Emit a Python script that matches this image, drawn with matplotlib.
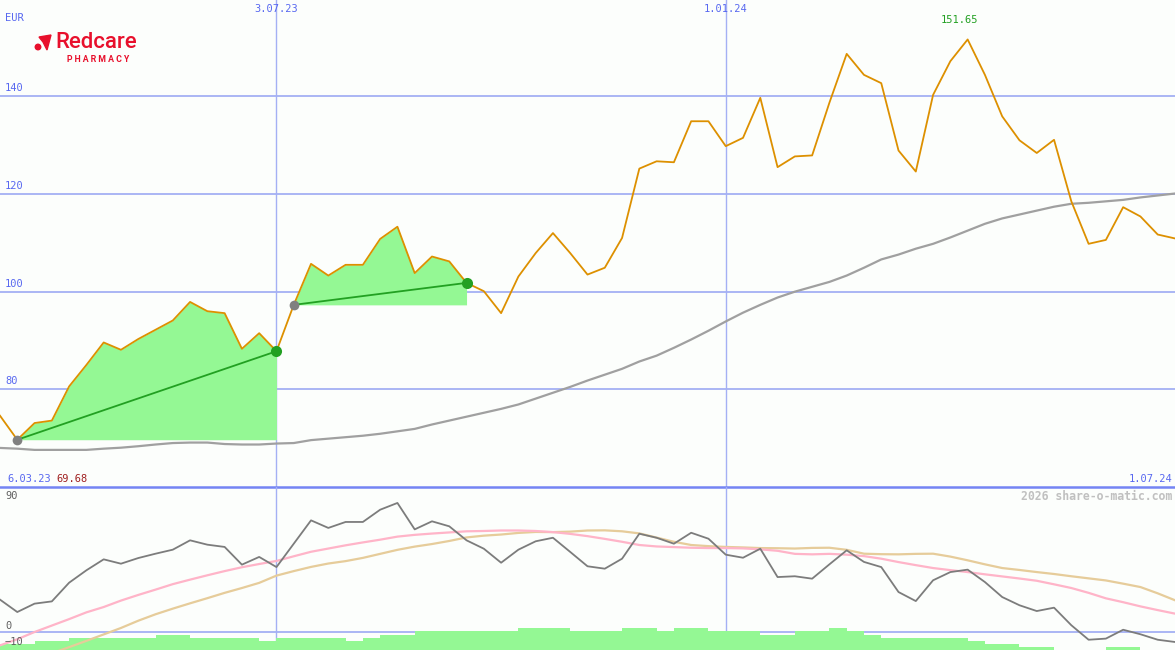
import numpy as np
import matplotlib
matplotlib.use("Agg")
import matplotlib.pyplot as plt
from matplotlib.patches import Polygon, Ellipse

# weekly closes (EUR), 6.03.23 .. 1.07.24
price = [74.6, 69.68, 73.1, 73.6, 80.6, 85.0, 89.6, 88.1, 90.3, 92.2,
         94.1, 97.9, 96.0, 95.6, 88.3, 91.5, 87.8, 97.3, 105.7, 103.3,
         105.5, 105.5, 110.8, 113.3, 103.8, 107.2, 106.2, 101.8, 100.1, 95.6,
         103.1, 107.9, 112.0, 107.9, 103.5, 104.9, 111.0, 125.2, 126.7, 126.5,
         134.9, 134.9, 129.8, 131.5, 139.7, 125.5, 127.7, 127.9, 138.7, 148.7,
         144.4, 142.7, 128.9, 124.6, 140.3, 147.2, 151.65, 144.4, 135.9, 131.0,
         128.4, 131.1, 118.5, 109.8, 110.6, 117.3, 115.4, 111.7, 110.9]

# long moving average
ma = [68.0, 67.85, 67.6, 67.6, 67.6, 67.6, 67.85, 68.05, 68.35, 68.7,
      69.0, 69.1, 69.1, 68.8, 68.7, 68.7, 68.9, 69.0, 69.6, 69.9,
      70.2, 70.5, 70.9, 71.4, 71.9, 72.8, 73.6, 74.4, 75.2, 76.0,
      76.9, 78.1, 79.3, 80.5, 81.8, 83.0, 84.2, 85.7, 86.9, 88.5,
      90.2, 92.0, 93.9, 95.7, 97.3, 98.8, 100.0, 101.0, 102.0, 103.3,
      104.9, 106.6, 107.6, 108.8, 109.8, 111.1, 112.5, 113.9, 115.0, 115.8,
      116.6, 117.4, 118.0, 118.2, 118.5, 118.8, 119.3, 119.7, 120.1]

# lower panel indicator
osc = [20.1, 12.4, 17.6, 19.0, 30.6, 38.3, 45.1, 42.4, 45.9, 48.6,
       51.1, 56.9, 54.2, 52.8, 41.8, 46.6, 40.3, 54.8, 69.3, 64.6,
       68.3, 68.3, 75.9, 80.1, 63.7, 68.7, 65.6, 56.9, 51.7, 43.0,
       51.1, 56.3, 58.5, 49.7, 40.8, 39.3, 45.5, 61.0, 58.5, 54.8,
       61.6, 57.9, 48.0, 46.1, 51.7, 34.1, 34.6, 33.1, 42.0, 50.7,
       43.5, 40.3, 24.8, 19.2, 32.1, 37.2, 38.7, 31.0, 21.7, 16.6,
       13.0, 15.1, 4.2, -4.8, -4.1, 1.4, -1.4, -4.8, -6.2]

pink = [-8.3, -4.5, 0.0, 4.0, 8.0, 12.2, 15.5, 19.5, 23.0, 26.3,
        29.7, 32.5, 35.2, 37.8, 40.2, 42.2, 44.1, 47.0, 49.8, 51.8,
        53.8, 55.6, 57.3, 59.2, 60.3, 61.1, 61.8, 62.5, 62.7, 63.0,
        63.0, 62.7, 62.0, 60.9, 59.5, 57.8, 56.0, 54.0, 53.1, 52.7,
        52.3, 52.1, 52.1, 51.9, 51.3, 50.4, 48.5, 48.2, 48.5, 48.0,
        47.1, 45.5, 43.4, 41.5, 39.7, 38.4, 37.2, 35.8, 34.5, 33.2,
        31.8, 29.6, 27.3, 24.3, 20.9, 18.5, 15.9, 13.6, 11.4]

tan = [-25.0, -21.0, -17.0, -13.2, -9.4, -5.5, -1.5, 2.5, 7.0, 11.0,
       14.5, 17.8, 21.0, 24.3, 27.3, 30.5, 35.0, 37.8, 40.4, 42.5,
       44.0, 46.0, 48.5, 51.0, 53.0, 54.6, 56.5, 58.7, 59.8, 60.5,
       61.5, 62.1, 62.0, 62.3, 63.0, 63.1, 62.5, 61.2, 58.6, 56.0,
       54.0, 53.3, 52.8, 52.5, 52.1, 52.0, 51.8, 52.2, 52.3, 51.0,
       48.6, 48.3, 48.2, 48.5, 48.6, 46.8, 44.5, 42.0, 39.7, 38.5,
       37.2, 36.0, 34.6, 33.3, 32.0, 30.0, 27.9, 24.0, 19.7]

nan = np.nan
bars = [-7.4, -7.4, -5.6, -5.6, -3.9, -3.9, -3.9, -3.9, -3.9, -1.9,
        -1.9, -3.9, -3.9, -3.9, -3.9, -5.6, -3.9, -3.9, -3.9, -3.9,
        -5.6, -3.9, -1.9, -1.9, 0.6, 0.6, 0.6, 0.6, 0.6, 0.6,
        2.5, 2.5, 2.5, 0.6, 0.6, 0.6, 2.5, 2.5, 0.6, 2.5,
        2.5, 0.6, 0.6, 0.6, -1.9, -1.9, 0.6, 0.6, 2.5, 0.6,
        -1.9, -3.9, -3.9, -3.9, -3.9, -3.9, -5.6, -7.4, -7.4, -9.3,
        -9.3, nan, nan, nan, -9.3, -9.3, nan, nan]

date_labels = {16: "3.07.23", 42: "1.01.24"}
price_ticks = [80, 100, 120, 140]
swings = [(1, 16), (17, 27)]

W, H = 1175, 650
bg = "#fcfefc"
grid = "#a4b0f4"
blue_txt = "#5868f0"
green_fill = "#94f894"

fig = plt.figure(figsize=(W / 100, H / 100), dpi=100)
fig.patch.set_facecolor(bg)
ax = fig.add_axes([0, 163 / H, 1, 487 / H])
ax2 = fig.add_axes([0, 0, 1, 163 / H])
for a in (ax, ax2):
    a.set_axis_off()
    a.set_xlim(0, 68)

x = np.arange(len(price))
price = np.array(price)

# main panel
ax.set_ylim(60, 159.73)
for t in price_ticks:
    ax.axhline(t, color=grid, lw=1.3, zorder=1)
    ax.text(5 / W, t + 0.6, str(t), transform=ax.get_yaxis_transform(),
            fontsize=7.5, family="DejaVu Sans Mono", color=blue_txt, va="bottom")
for i, lab in date_labels.items():
    ax.axvline(i, color=grid, lw=1.0, zorder=1)
    ax2.axvline(i, color=grid, lw=1.0, zorder=1)
    fig.text(i / 68, 1 - 9 / H, lab, fontsize=7.5, family="DejaVu Sans Mono",
             color=blue_txt, ha="center", va="center")

for a, b in swings:
    xs = x[a:b + 1]
    ax.fill_between(xs, price[a:b + 1], price[a], color=green_fill, lw=0, zorder=2)

ax.plot(x, ma, color="#a0a0a0", lw=1.6, zorder=3)
ax.plot(x, price, color="#dd9000", lw=1.3, zorder=4)
for a, b in swings:
    ax.plot([a, b], [price[a], price[b]], color="#22a022", lw=1.3, zorder=5)
    ax.plot(a, price[a], "o", color="#808080", ms=7, mec="none", zorder=6)
    ax.plot(b, price[b], "o", color="#22a022", ms=8, mec="none", zorder=6)

imax = int(np.argmax(price))
ax.annotate(f"{price[imax]:.2f}", (imax, price[imax]), xytext=(-8, 14),
            textcoords="offset pixels", fontsize=7.5, family="DejaVu Sans Mono",
            color="#22a022", ha="center", va="bottom")

ax.axhline(60, color="#7484f4", lw=1.8, zorder=7, clip_on=False)

# lower panel
ax2.set_ylim(-11.17, 90)
ax2.axhline(0, color=grid, lw=1.3, zorder=1)
bx = [i for i, v in enumerate(bars) if not np.isnan(v)]
bv = [bars[i] + 12 for i in bx]
ax2.bar(bx, bv, bottom=-12, width=1.0, align="edge", color=green_fill, lw=0, zorder=2)
ax2.plot(x, tan, color="#e6cc9a", lw=1.6, zorder=3)
ax2.plot(x, pink, color="#ffb4c8", lw=1.6, zorder=3)
ax2.plot(x, osc, color="#7c7c7c", lw=1.3, zorder=4)

mono = dict(family="DejaVu Sans Mono", fontsize=7.5)
fig.text(5 / W, 1 - 18 / H, "EUR", color=blue_txt, va="center", **mono)
fig.text(7 / W, 1 - 479 / H, "6.03.23", color=blue_txt, va="center", **mono)
fig.text(56 / W, 1 - 479 / H, f"{price[1]:.2f}", color="#a02020", va="center", **mono)
fig.text(1172 / W, 1 - 479 / H, "1.07.24", color=blue_txt, va="center", ha="right", **mono)
fig.text(1172 / W, 1 - 496 / H, "2026 share-o-matic.com", color="#c0c0c0", va="center",
         ha="right", family="DejaVu Sans Mono", fontsize=8.3, fontweight="bold")
fig.text(5 / W, 1 - 496 / H, "90", color="#606060", va="center", **mono)
fig.text(5 / W, 1 - 626 / H, "0", color="#606060", va="center", **mono)
fig.text(5 / W, 1 - 642 / H, "\u221210", color="#606060", va="center", **mono)

# logo
red = "#e8102c"
fig.text(55 / W, 1 - 43 / H, "Redcare", color=red, family="Roboto", fontsize=16,
         fontweight="medium", va="center")
fig.text(67 / W, 1 - 60 / H, "P H A R M A C Y", color=red, family="Roboto", fontsize=6.3,
         fontweight="bold", va="center")
pts = [(39, 37), (51, 35), (47, 50), (43, 42)]
fig.patches.append(Polygon([(px / W, 1 - py / H) for px, py in pts], closed=True,
                           transform=fig.transFigure, color=red))
fig.patches.append(Ellipse((38 / W, 1 - 47 / H), 5.5 / W, 5.5 / H,
                           transform=fig.transFigure, color=red))

fig.savefig("out.png", dpi=100, facecolor=bg)
